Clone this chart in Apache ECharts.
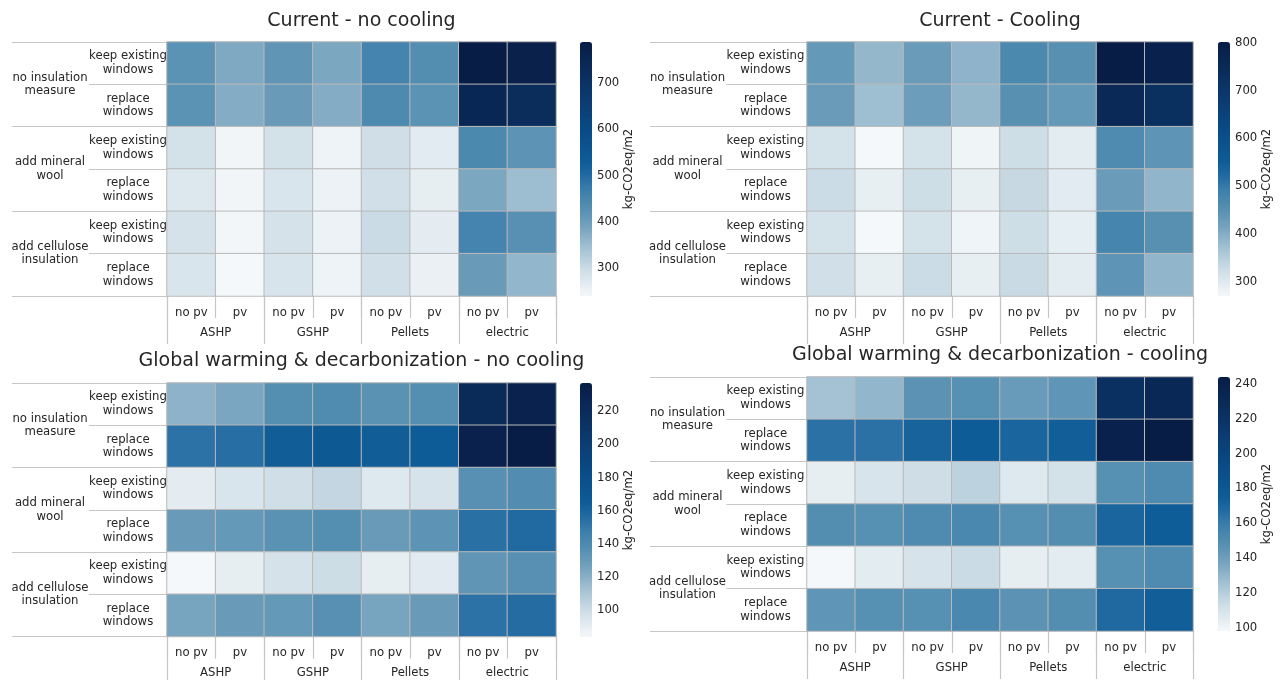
<!DOCTYPE html>
<html><head><meta charset="utf-8">
<script src="https://cdn.jsdelivr.net/npm/echarts@6/dist/echarts.min.js"></script>
<style>html,body{margin:0;padding:0;background:#fff}#c{width:1281px;height:680px}</style>
</head><body><div id="c"></div>
<script>
// ---------- data ----------
const pvLabels = ['no pv','pv','no pv','pv','no pv','pv','no pv','pv'];
const systemLabels = ['ASHP','GSHP','Pellets','electric'];
const windowLabels = ['keep existing\nwindows','replace\nwindows','keep existing\nwindows','replace\nwindows','keep existing\nwindows','replace\nwindows'];
const measureLabels = ['no insulation\nmeasure','add mineral\nwool','add cellulose\ninsulation'];
const panelTitles = ['Current - no cooling','Current - Cooling','Global warming & decarbonization - no cooling','Global warming & decarbonization - cooling'];
const unitLabel = 'kg-CO2eq/m2';

// rows: windowLabels order; columns: pvLabels order
const currentNoCooling = [
  [421,379,415,382,453,432,789,772],
  [420,374,404,374,440,421,748,722],
  [289,245,288,250,294,267,443,418],
  [275,244,280,251,291,261,382,349],
  [286,243,286,252,299,264,453,426],
  [280,239,282,250,292,256,404,360]
];
const currentCooling = [
  [434,385,428,391,468,450,802,780],
  [428,375,425,385,450,434,752,728],
  [316,270,316,278,324,295,463,442],
  [327,289,324,289,332,297,428,388],
  [316,270,316,279,324,292,476,450],
  [321,289,327,289,330,295,442,388]
];
const futureNoCooling = [
  [119,124,137,139,135,137,222,230],
  [153,155,164,168,164,165,232,237],
  [91,95,99,103,93,96,136,138],
  [130,131,135,137,130,134,154,157],
  [84,90,97,100,90,92,133,136],
  [125,130,131,136,125,130,153,156]
];
const futureCooling = [
  [125,130,146,148,142,145,223,232],
  [164,164,171,176,170,174,238,244],
  [104,109,113,118,107,111,148,151],
  [149,148,151,153,148,149,170,175],
  [98,105,110,114,104,105,148,151],
  [145,148,148,153,146,149,168,174]
];
const ticksCurrentNoCooling = [300,400,500,600,700];
const ticksCurrentCooling = [300,400,500,600,700,800];
const ticksFutureNoCooling = [100,120,140,160,180,200,220];
const ticksFutureCooling = [100,120,140,160,180,200,220,240];

const panelData = [currentNoCooling, currentCooling, futureNoCooling, futureCooling];
const panelTicks = [ticksCurrentNoCooling, ticksCurrentCooling, ticksFutureNoCooling, ticksFutureCooling];

// ---------- style / layout ----------
const FONT = 'DejaVu Sans';
const TXT = '#262626';
const LINE = '#c6c6c6';
const cmap = [
  [0.00,'#f5f8fa'],[0.10,'#cfdee7'],[0.20,'#9dbdd0'],[0.27,'#76a3bf'],[0.34,'#5790b2'],
  [0.42,'#3a7dab'],[0.48,'#1f68a0'],[0.53,'#0d5c97'],[0.66,'#0a4a85'],[0.82,'#0b3568'],[1.00,'#081d45']
];
function sampleCmap(n){
  const hex = h => [parseInt(h.slice(1,3),16),parseInt(h.slice(3,5),16),parseInt(h.slice(5,7),16)];
  const out=[];
  for(let i=0;i<n;i++){
    const t=i/(n-1);
    let k=0; while(k<cmap.length-2 && t>cmap[k+1][0]) k++;
    const [t0,c0]=cmap[k],[t1,c1]=cmap[k+1];
    const f=(t-t0)/(t1-t0); const a=hex(c0), b=hex(c1);
    const c=a.map((v,j)=>Math.round(v+(b[j]-v)*f));
    out.push('rgb('+c.join(',')+')');
  }
  return out;
}
const colors = sampleCmap(101);

const layout = [
  {left:167, top:42, width:389, height:254, cb:580, outM:117, inM:39, outT:155, inT:78, titleY:21},
  {left:807, top:42, width:386, height:254, cb:1218, outM:119.5, inM:41.5, outT:157, inT:80.5, titleY:21},
  {left:167, top:383, width:389, height:254, cb:580, outM:117, inM:39, outT:155, inT:78, titleY:361},
  {left:807, top:377, width:386, height:254, cb:1218, outM:119.5, inM:41.5, outT:157, inT:80.5, titleY:355}
];

const grid=[], xAxis=[], yAxis=[], series=[], visualMap=[], graphic=[];
const lblStyle = {fontFamily:FONT, fontSize:11.7, color:TXT, lineHeight:13.5};

layout.forEach((L,i)=>{
  const vals = panelData[i];
  const flat = vals.flat();
  const vmin = Math.min(...flat), vmax = Math.max(...flat);
  grid.push({left:L.left, top:L.top, width:L.width, height:L.height, containLabel:false});
  xAxis.push({type:'category', gridIndex:i, data:pvLabels, position:'bottom',
    axisLine:{show:false}, axisTick:{show:true, interval:0, length:22, lineStyle:{color:LINE, width:1.2}},
    axisLabel:Object.assign({interval:0, margin:10}, lblStyle), splitLine:{show:false}});
  xAxis.push({type:'category', gridIndex:i, data:systemLabels, position:'bottom',
    axisLine:{show:false}, axisTick:{show:true, interval:0, length:48, lineStyle:{color:LINE, width:1.2}},
    axisLabel:Object.assign({interval:0, margin:30}, lblStyle), splitLine:{show:false}});
  yAxis.push({type:'category', gridIndex:i, data:windowLabels, inverse:true, position:'left',
    axisLine:{show:false}, axisTick:{show:true, interval:0, length:L.inT, lineStyle:{color:LINE, width:1.2}},
    axisLabel:Object.assign({interval:0, margin:L.inM, align:'center'}, lblStyle), splitLine:{show:false}});
  yAxis.push({type:'category', gridIndex:i, data:measureLabels, inverse:true, position:'left',
    axisLine:{show:false}, axisTick:{show:true, interval:0, length:L.outT, lineStyle:{color:LINE, width:1.2}},
    axisLabel:Object.assign({interval:0, margin:L.outM, align:'center'}, lblStyle), splitLine:{show:false}});
  const data=[];
  vals.forEach((row,r)=>row.forEach((v,c)=>data.push([c,r,v])));
  series.push({type:'heatmap', xAxisIndex:2*i, yAxisIndex:2*i, data:data,
    itemStyle:{borderColor:'#b9b9b9', borderWidth:1}, emphasis:{disabled:true}, silent:true, progressive:0});
  visualMap.push({type:'continuous', seriesIndex:i, dimension:2, min:vmin, max:vmax, calculable:false,
    orient:'vertical', left:L.cb, top:L.top, itemWidth:12, itemHeight:L.height, padding:0,
    text:null, showLabel:false, hoverLink:false, inRange:{color:colors}});
  graphic.push({type:'text', x:L.left+L.width/2, y:L.titleY,
    style:{text:panelTitles[i], fontFamily:FONT, fontSize:19, fill:TXT, align:'center', verticalAlign:'middle'}});
});
layout.forEach((L,i)=>{
  const flat = panelData[i].flat();
  const vmin = Math.min(...flat), vmax = Math.max(...flat);
  grid.push({left:L.cb, top:L.top, width:12, height:L.height});
  xAxis.push({type:'value', gridIndex:4+i, show:false});
  yAxis.push({type:'value', gridIndex:4+i, position:'right', min:vmin, max:vmax,
    axisLine:{show:false}, splitLine:{show:false},
    axisTick:{show:true, length:3.5, customValues:panelTicks[i], lineStyle:{color:'#333'}},
    axisLabel:{customValues:panelTicks[i], margin:5, fontFamily:FONT, fontSize:11.7, color:TXT},
    name:unitLabel, nameLocation:'middle', nameRotate:90, nameGap:22,
    nameTextStyle:{fontFamily:FONT, fontSize:11.7, color:TXT}});
});

const chart = echarts.init(document.getElementById('c'), null, {renderer:'canvas'});
chart.setOption({animation:false, backgroundColor:'#fff', grid, xAxis, yAxis, series, visualMap, graphic});
</script></body></html>
